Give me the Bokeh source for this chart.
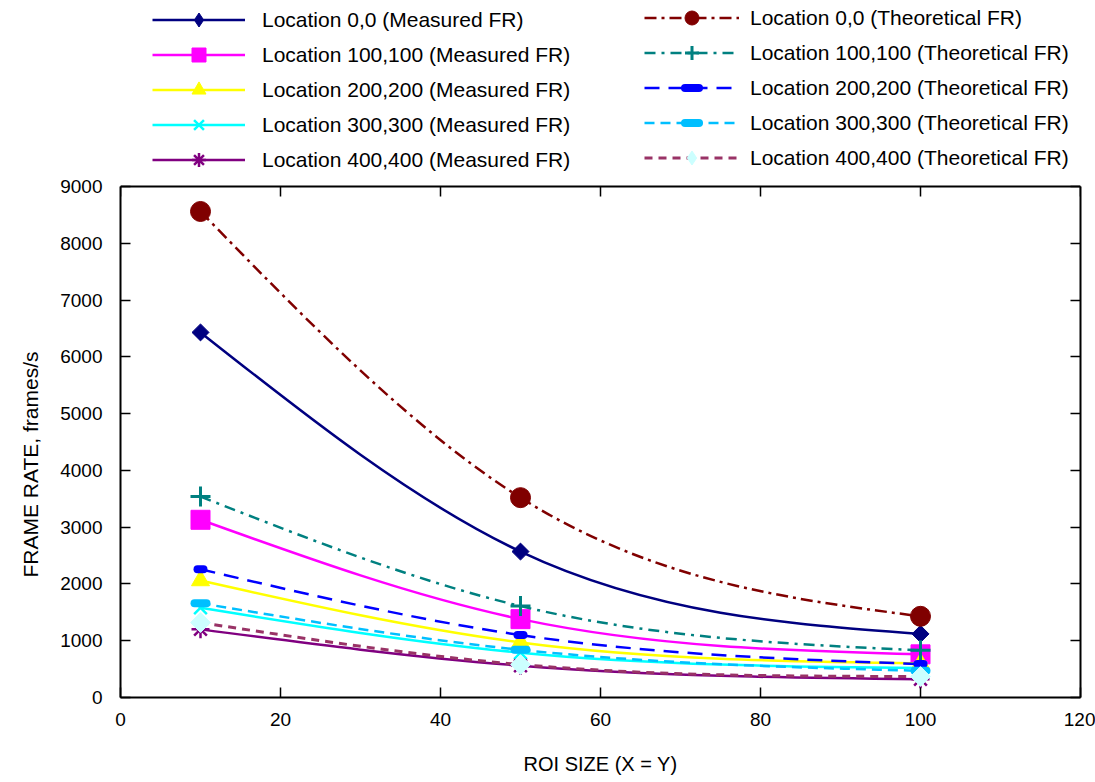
import numpy as np
from bokeh.plotting import figure
from bokeh.models import Legend, LegendItem, LinearAxis, Range1d, FixedTicker, Span, Title
from bokeh.embed import file_html
from bokeh.resources import INLINE

# ---------------- data ----------------
roi_size = [10, 50, 100]

x_ticks = [0, 20, 40, 60, 80, 100, 120]
y_ticks = [0, 1000, 2000, 3000, 4000, 5000, 6000, 7000, 8000, 9000]

meas_labels = ["Location 0,0 (Measured FR)", "Location 100,100 (Measured FR)",
               "Location 200,200 (Measured FR)", "Location 300,300 (Measured FR)",
               "Location 400,400 (Measured FR)"]
theo_labels = ["Location 0,0 (Theoretical FR)", "Location 100,100 (Theoretical FR)",
               "Location 200,200 (Theoretical FR)", "Location 300,300 (Theoretical FR)",
               "Location 400,400 (Theoretical FR)"]

meas_0_0 = [6430, 2570, 1120]
meas_100_100 = [3130, 1380, 760]
meas_200_200 = [2060, 970, 600]
meas_300_300 = [1580, 790, 520]
meas_400_400 = [1200, 560, 320]

theo_0_0 = [8560, 3520, 1430]
theo_100_100 = [3540, 1610, 830]
theo_200_200 = [2260, 1100, 590]
theo_300_300 = [1660, 840, 470]
theo_400_400 = [1320, 580, 370]

FONT = "Liberation Sans"

# layout (pixels)
W, H = 1095, 782
BORDER_LEFT, BORDER_RIGHT, BORDER_BOTTOM = 120, 15, 85
PLOT_TOP = 186            # where the 9000 line sits; the legend lives above it
FRAME_H = H - BORDER_BOTTOM
Y_MAX = y_ticks[-1]
Y_END = Y_MAX * FRAME_H / (FRAME_H - PLOT_TOP)
TICK_PX = 10


def spline_segments(x, y):
    """Natural cubic spline through the data, expressed as cubic Bezier segments."""
    x = np.asarray(x, float)
    y = np.asarray(y, float)
    n = len(x)
    h = np.diff(x)
    s = np.diff(y) / h
    A = np.zeros((n, n))
    b = np.zeros(n)
    A[0, 0] = 1.0
    A[-1, -1] = 1.0
    for i in range(1, n - 1):
        A[i, i - 1] = h[i - 1]
        A[i, i] = 2 * (h[i - 1] + h[i])
        A[i, i + 1] = h[i]
        b[i] = 6 * (s[i] - s[i - 1])
    M = np.linalg.solve(A, b)
    d0 = s - h * (2 * M[:-1] + M[1:]) / 6
    d1 = s + h * (M[:-1] + 2 * M[1:]) / 6
    return dict(x0=x[:-1], y0=y[:-1], x1=x[1:], y1=y[1:],
                cx0=x[:-1] + h / 3, cy0=y[:-1] + d0 * h / 3,
                cx1=x[1:] - h / 3, cy1=y[1:] - d1 * h / 3)


p = figure(width=W, height=H, output_backend="svg", toolbar_location=None,
           x_range=Range1d(x_ticks[0], x_ticks[-1]), y_range=Range1d(0, Y_END),
           min_border_left=BORDER_LEFT, min_border_right=BORDER_RIGHT, min_border_top=0,
           min_border_bottom=BORDER_BOTTOM)
p.background_fill_color = "white"
p.border_fill_color = "white"
p.outline_line_color = None
p.xgrid.visible = False
p.ygrid.visible = False

for ax in (p.xaxis[0], p.yaxis[0]):
    ax.axis_line_width = 2
    ax.major_tick_in = TICK_PX
    ax.major_tick_out = 0
    ax.major_tick_line_width = 1.5
    ax.minor_tick_line_color = None
    ax.major_label_text_font = FONT
    ax.major_label_text_font_size = "19px"
    ax.major_label_text_color = "black"
    ax.axis_label_text_font = FONT
    ax.axis_label_text_font_size = "20px"
    ax.axis_label_text_font_style = "normal"
    ax.axis_label_text_color = "black"

p.xaxis.ticker = FixedTicker(ticks=x_ticks)
p.yaxis.ticker = FixedTicker(ticks=y_ticks)
p.yaxis.bounds = (0, Y_MAX)
p.xaxis.axis_label = "ROI SIZE (X = Y)"
p.xaxis.major_label_standoff = 15
p.yaxis.major_label_standoff = 18
p.xaxis.axis_label_standoff = 24

# y-axis title, centred on the 0..9000 box rather than the full frame
p.add_layout(Title(text="FRAME RATE, frames/s", align="left", offset=120, standoff=32,
                   text_font=FONT, text_font_size="21px", text_font_style="normal",
                   text_color="black"), "left")

# mirror axis on the right (ticks only)
right_ax = LinearAxis(ticker=FixedTicker(ticks=y_ticks), bounds=(0, Y_MAX),
                      axis_line_width=2,
                      major_tick_in=TICK_PX, major_tick_out=0, major_tick_line_width=1.5,
                      minor_tick_line_color=None, major_label_standoff=0,
                      major_label_overrides={t: "" for t in y_ticks},
                      major_label_text_font_size="1px")
p.add_layout(right_ax, "right")

# top edge of the plot box and its mirrored ticks
p.add_layout(Span(location=Y_MAX, dimension="width", line_color="black", line_width=2))
tick_len = TICK_PX * Y_END / FRAME_H
p.segment(x0=x_ticks, y0=[Y_MAX] * len(x_ticks), x1=x_ticks,
          y1=[Y_MAX - tick_len] * len(x_ticks), line_color="black", line_width=1.5)

measured = [meas_0_0, meas_100_100, meas_200_200, meas_300_300, meas_400_400]
theoretical = [theo_0_0, theo_100_100, theo_200_200, theo_300_300, theo_400_400]

meas_style = [
    dict(color="#000080", marker="square", size=12, angle=np.pi / 4, lw=2.5, leg="diamond"),
    dict(color="#ff00ff", marker="square", size=19, angle=0, lw=2.5, leg=None),
    dict(color="#ffff00", marker="triangle", size=18, angle=0, lw=2.5, leg=None),
    dict(color="#00ffff", marker="x", size=18, angle=0, lw=2.5, leg=None),
    dict(color="#800080", marker="asterisk", size=18, angle=0, lw=2.5, leg=None),
]
theo_style = [
    dict(color="#800000", mcolor="#800000", marker="circle", size=20, dash="12 5 3 5", lw=2.5),
    dict(color="#008080", mcolor="#008080", marker="cross", size=20, dash="11 6 3 6", lw=2.5),
    dict(color="#0000ff", mcolor="#0000ff", marker="dash", size=6, dash="15 9", lw=2.5),
    dict(color="#00bfff", mcolor="#00bfff", marker="dash", size=12, dash="10 6", lw=2.5),
    dict(color="#993366", mcolor="#ccffff", marker="square", size=14, dash="8 6", lw=3),
]

meas_items = []
theo_items = []

for vals, st, lab in zip(measured, meas_style, meas_labels):
    seg = spline_segments(roi_size, vals)
    lr = p.bezier(x0=seg["x0"], y0=seg["y0"], x1=seg["x1"], y1=seg["y1"],
                  cx0=seg["cx0"], cy0=seg["cy0"], cx1=seg["cx1"], cy1=seg["cy1"],
                  line_color=st["color"], line_width=st["lw"])
    leg_r = None
    if st["leg"] == "diamond":
        # diamond (used as legend sample) hidden inside the rotated-square marker
        leg_r = p.scatter(roi_size, vals, marker="diamond", size=st["size"],
                          fill_color=st["color"], line_color=st["color"])
    if st["marker"] in ("x", "asterisk"):
        sr = p.scatter(roi_size, vals, marker=st["marker"], size=st["size"],
                       line_color=st["color"], line_width=2.5, angle=st["angle"])
    else:
        sr = p.scatter(roi_size, vals, marker=st["marker"], size=st["size"],
                       fill_color=st["color"], line_color=st["color"], line_width=1,
                       angle=st["angle"])
    meas_items.append(LegendItem(label=lab, renderers=[lr, leg_r if leg_r is not None else sr]))

for vals, st, lab in zip(theoretical, theo_style, theo_labels):
    seg = spline_segments(roi_size, vals)
    lr = p.bezier(x0=seg["x0"], y0=seg["y0"], x1=seg["x1"], y1=seg["y1"],
                  cx0=seg["cx0"], cy0=seg["cy0"], cx1=seg["cx1"], cy1=seg["cy1"],
                  line_color=st["color"], line_width=st["lw"], line_dash=st["dash"])
    if st["marker"] == "cross":
        sr = p.scatter(roi_size, vals, marker="cross", size=st["size"],
                       line_color=st["mcolor"], line_width=3)
    elif st["marker"] == "dash":
        sr = p.scatter(roi_size, vals, marker="dash", size=st["size"],
                       line_color=st["mcolor"], line_width=8, line_cap="round")
    elif st["marker"] == "square":
        sr = p.scatter(roi_size, vals, marker="diamond", size=st["size"],
                       fill_color=st["mcolor"], line_color=st["mcolor"])
        p.scatter(roi_size, vals, marker="square", size=st["size"],
                  fill_color=st["mcolor"], line_color=st["mcolor"], angle=np.pi / 4)
    else:
        sr = p.scatter(roi_size, vals, marker=st["marker"], size=st["size"],
                       fill_color=st["mcolor"], line_color=st["mcolor"])
    theo_items.append(LegendItem(label=lab, renderers=[lr, sr]))

common = dict(glyph_height=35, label_height=35, spacing=0, padding=0, margin=0,
              border_line_color=None, background_fill_alpha=0,
              label_text_font=FONT, label_text_font_size="21px",
              label_text_color="black")

leg_left = Legend(items=meas_items, location=(32, 520), glyph_width=93,
                  label_standoff=17, **common)
leg_right = Legend(items=theo_items, location=(524, 522), glyph_width=95,
                   label_standoff=11, **common)
p.add_layout(leg_left, "center")
p.add_layout(leg_right, "center")

open("out.html", "w").write(file_html(p, INLINE))
